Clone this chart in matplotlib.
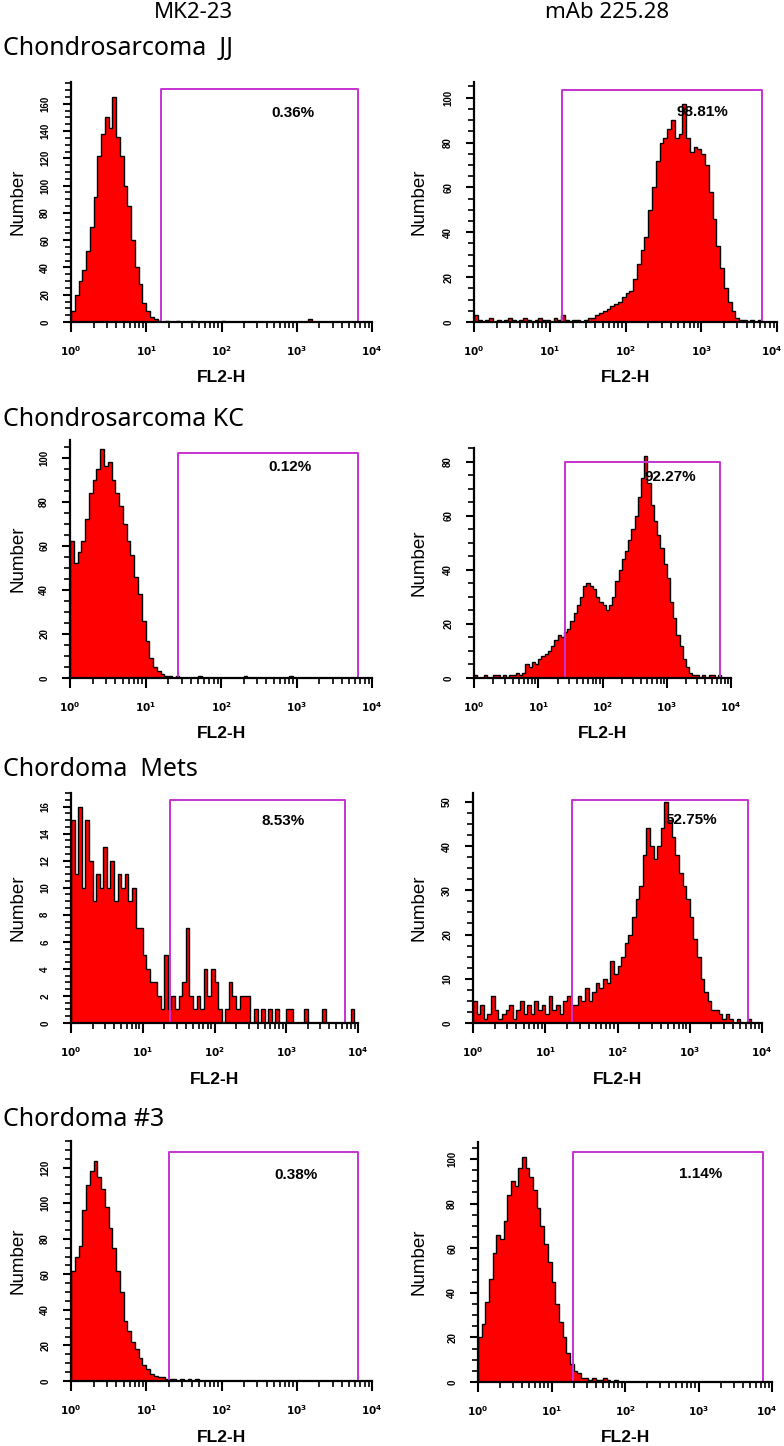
import numpy as np
import matplotlib
matplotlib.use('Agg')
import matplotlib.pyplot as plt
from matplotlib.ticker import MultipleLocator, LogLocator, NullFormatter, FixedLocator
from matplotlib.transforms import ScaledTranslation

# counts per channel, each channel = 1/20 decade, from 10^0 to 10^4 (80 channels)
jj_mk2 = [8, 20, 30, 38, 52, 70, 92, 122, 138, 150,
          142, 165, 136, 122, 100, 85, 60, 40, 28, 14,
          8, 4, 2, 1, 0, 1, 0, 0, 1, 0,
          0, 0, 1, 0, 0, 0, 0, 0, 0, 0,
          1, 0, 0, 0, 0, 0, 0, 0, 0, 0,
          0, 0, 0, 0, 0, 0, 0, 0, 0, 0,
          0, 0, 0, 2, 0, 0, 0, 0, 0, 0,
          0, 0, 0, 0, 0, 0, 0, 0, 0, 0]
jj_mab = [3, 1, 0, 1, 2, 0, 1, 0, 1, 2,
          1, 0, 1, 2, 1, 0, 1, 2, 1, 1,
          0, 2, 1, 3, 1, 0, 1, 1, 0, 1,
          2, 2, 3, 4, 5, 6, 7, 8, 9, 11,
          13, 14, 19, 26, 32, 38, 50, 60, 72, 80,
          82, 86, 90, 82, 84, 97, 82, 76, 78, 77,
          75, 70, 58, 46, 34, 24, 15, 9, 5, 2,
          1, 1, 0, 1, 0, 1, 0, 0, 0, 0]
kc_mk2 = [62, 52, 57, 62, 72, 84, 90, 95, 104, 96,
          98, 90, 84, 78, 70, 62, 56, 46, 38, 26,
          17, 9, 5, 3, 2, 1, 1, 0, 1, 0,
          0, 0, 0, 0, 1, 0, 0, 0, 0, 0,
          0, 0, 0, 0, 0, 0, 1, 0, 0, 0,
          0, 0, 0, 0, 0, 0, 0, 0, 1, 0,
          0, 0, 0, 0, 0, 0, 0, 0, 0, 0,
          0, 0, 0, 0, 0, 0, 0, 0, 0, 0]
kc_mab = [1, 0, 0, 1, 0, 0, 1, 1, 0, 1,
          0, 1, 1, 2, 1, 2, 5, 4, 6, 5,
          7, 8, 9, 10, 12, 14, 16, 15, 17, 18,
          21, 24, 27, 30, 34, 35, 34, 33, 30, 28,
          27, 25, 27, 30, 36, 40, 44, 47, 51, 55,
          60, 67, 74, 82, 72, 64, 58, 53, 48, 42,
          37, 28, 22, 16, 12, 7, 4, 2, 1, 1,
          0, 1, 0, 1, 1, 0, 1, 0, 0, 0]
mets_mk2 = [15, 11, 16, 10, 15, 12, 9, 11, 10, 13,
            10, 12, 9, 11, 10, 11, 9, 10, 7, 7,
            5, 4, 3, 3, 2, 1, 5, 1, 2, 1,
            2, 3, 7, 2, 1, 2, 1, 4, 2, 4,
            3, 1, 0, 1, 3, 2, 1, 2, 2, 2,
            0, 1, 0, 1, 0, 1, 0, 1, 0, 0,
            1, 1, 0, 0, 0, 1, 0, 0, 0, 0,
            1, 0, 0, 0, 0, 0, 0, 0, 1, 0]
mets_mab = [5, 2, 4, 1, 2, 6, 3, 1, 2, 3,
            4, 1, 3, 5, 2, 4, 2, 5, 3, 4,
            2, 6, 3, 4, 2, 5, 6, 4, 4, 6,
            5, 8, 5, 7, 9, 8, 10, 9, 14, 11,
            13, 15, 18, 20, 24, 28, 31, 38, 44, 40,
            37, 40, 44, 50, 46, 42, 38, 34, 31, 28,
            24, 19, 15, 10, 7, 5, 3, 3, 2, 1,
            2, 1, 0, 1, 0, 0, 1, 0, 0, 0]
c3_mk2 = [62, 70, 76, 96, 110, 118, 124, 115, 108, 98,
          86, 75, 62, 50, 34, 28, 22, 18, 13, 9,
          7, 4, 3, 2, 2, 1, 1, 1, 0, 1,
          0, 1, 0, 1, 0, 0, 0, 0, 0, 0,
          0, 0, 0, 0, 0, 0, 0, 0, 0, 0,
          0, 0, 0, 0, 0, 0, 0, 0, 0, 0,
          0, 0, 0, 0, 0, 0, 0, 0, 0, 0,
          0, 0, 0, 0, 0, 0, 0, 0, 0, 0]
c3_mab = [20, 26, 36, 46, 58, 66, 64, 72, 84, 90,
          88, 96, 101, 96, 92, 86, 78, 70, 62, 54,
          45, 35, 27, 20, 13, 8, 5, 4, 2, 2,
          1, 2, 1, 1, 2, 1, 0, 1, 0, 0,
          0, 0, 0, 0, 0, 0, 0, 0, 0, 0,
          0, 0, 0, 0, 0, 0, 0, 0, 0, 0,
          0, 0, 0, 0, 0, 0, 0, 0, 0, 0,
          0, 0, 0, 0, 0, 0, 0, 0, 0, 0]

hists = [jj_mk2, jj_mab, kc_mk2, kc_mab, mets_mk2, mets_mab, c3_mk2, c3_mab]
gate_lo = [15.7, 14.5, 27, 25.7, 24, 23.4, 20, 19.5]
gate_hi = [6450, 6300, 6450, 6750, 6600, 6450, 6450, 7600]
gate_top = [171, 103.5, 102, 80, 16.5, 50.5, 129, 103]
pct_labels = ['0.36%', '98.81%', '0.12%', '92.27%', '8.53%', '52.75%', '0.38%', '1.14%']
y_max = [176, 107, 108, 85, 17, 52, 135, 107.6]
y_step = [20, 20, 20, 20, 2, 10, 20, 20]
col_titles = ['MK2-23', 'mAb 225.28']
row_titles = ['Chondrosarcoma  JJ', 'Chondrosarcoma KC', 'Chordoma  Mets', 'Chordoma #3']

# layout in pixels
W, H = 784, 1446
boxes = [(71, 372, 82, 322), (474, 777, 82, 322),
         (70, 372, 440, 678), (474, 731, 448, 678),
         (71, 358, 793, 1023), (473, 762, 793, 1023),
         (71, 372, 1141, 1381), (478, 772, 1142, 1382)]
pct_pos = [(293, 113), (702, 112), (290, 467), (670, 477),
           (283, 821), (691, 820), (296, 1175), (701, 1174)]
col_title_x = [193, 607]
row_title_y = [49, 419, 769, 1120]
number_x = [18, 419]
gate_color = '#c832d2'

plt.rcParams['font.family'] = ['Liberation Sans', 'DejaVu Sans']

fig = plt.figure(figsize=(W / 100, H / 100), dpi=100)

for k, counts in enumerate(hists):
    x0, x1, yt, yb = boxes[k]
    ax = fig.add_axes([x0 / W, 1 - yb / H, (x1 - x0) / W, (yb - yt) / H])
    edges = 10 ** (np.arange(len(counts) + 1) * 0.05)
    ax.stairs(counts, edges, fill=True, color='red', lw=0)
    ax.stairs(counts, edges, color='black', lw=1.0)
    ax.plot([gate_lo[k], gate_lo[k], gate_hi[k], gate_hi[k]],
            [0, gate_top[k], gate_top[k], 0], color=gate_color, lw=1.4, clip_on=False)

    ax.set_xscale('log')
    ax.set_xlim(1, 1e4)
    ax.set_ylim(0, y_max[k])
    for s in ['top', 'right']:
        ax.spines[s].set_visible(False)
    for s in ['left', 'bottom']:
        ax.spines[s].set_linewidth(1.6)

    ax.xaxis.set_major_locator(FixedLocator([1, 10, 100, 1000, 10000]))
    ax.xaxis.set_minor_locator(LogLocator(base=10, subs=np.arange(2, 10)))
    ax.xaxis.set_minor_formatter(NullFormatter())
    xlabels = ax.set_xticklabels([r'$\mathbf{10^{%d}}$' % i for i in range(5)])
    ax.tick_params(axis='x', which='major', length=7, width=1.5, pad=9, labelsize=7.5)
    ax.tick_params(axis='x', which='minor', length=4, width=1.2)
    if x1 > 770:
        xlabels[-1].set_transform(xlabels[-1].get_transform() +
                                  ScaledTranslation(-5 / 100, 0, fig.dpi_scale_trans))

    ax.yaxis.set_major_locator(MultipleLocator(y_step[k]))
    ax.yaxis.set_minor_locator(MultipleLocator(y_step[k] / 4))
    ax.tick_params(axis='y', which='major', length=6, width=1.5, pad=9,
                   labelsize=7, labelrotation=90)
    ax.tick_params(axis='y', which='minor', length=4, width=1.2)
    plt.setp(ax.get_yticklabels(), fontweight='bold', va='center')

    fig.text(number_x[k % 2] / W, 1 - (yt + yb) / 2 / H, 'Number', rotation=90,
             ha='center', va='center', fontsize=13.5)
    fig.text((x0 + x1) / 2 / W, 1 - (yb + 56) / H, 'FL2-H', ha='center', va='center',
             fontsize=12.5, fontweight='bold')
    px, py = pct_pos[k]
    fig.text(px / W, 1 - py / H, pct_labels[k], ha='center', va='center',
             fontsize=11, fontweight='bold')

for c, t in enumerate(col_titles):
    fig.text(col_title_x[c] / W, 1 - 12 / H, t, ha='center', va='center',
             fontsize=16, family='Noto Sans')
for r, t in enumerate(row_titles):
    fig.text(3 / W, 1 - row_title_y[r] / H, t, ha='left', va='center',
             fontsize=18, family='Noto Sans')

fig.savefig('out.png', dpi=100)
